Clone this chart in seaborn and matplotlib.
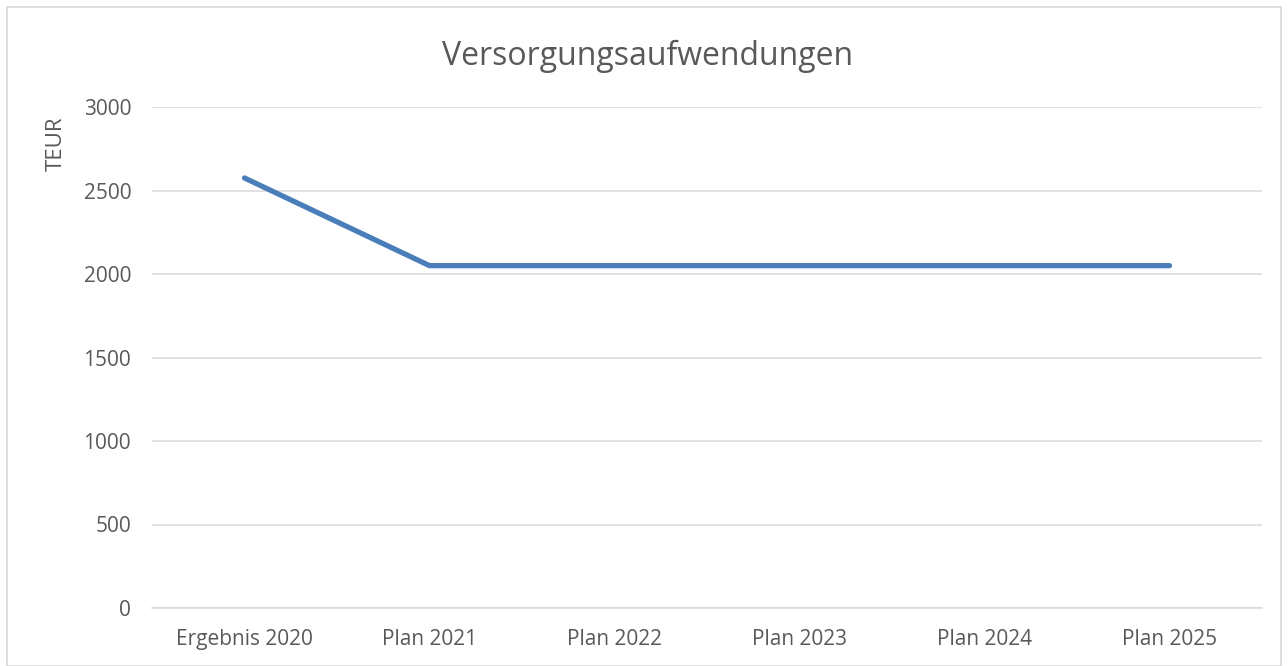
import matplotlib.pyplot as plt
import matplotlib.patches as patches
import pandas as pd
import seaborn as sns

# Data
categories = ["Ergebnis 2020", "Plan 2021", "Plan 2022", "Plan 2023", "Plan 2024", "Plan 2025"]
values = [2575, 2050, 2050, 2050, 2050, 2050]
yticks = [0, 500, 1000, 1500, 2000, 2500, 3000]

df = pd.DataFrame({"Jahr": categories, "TEUR": values})

sns.set_style("white")
plt.rcParams["font.family"] = ["Open Sans", "DejaVu Sans"]

fig = plt.figure(figsize=(12.88, 6.66), dpi=100)
ax = fig.add_axes([152 / 1288, 1 - 608 / 666, 1110 / 1288, 501 / 666])

sns.lineplot(data=df, x="Jahr", y="TEUR", ax=ax, color="#4a7ebb", linewidth=3.8,
             solid_capstyle="round", solid_joinstyle="round", sort=False)

ax.set_xlim(-0.5, len(categories) - 0.5)
ax.set_ylim(0, 3000)
ax.set_yticks(yticks)
ax.set_yticklabels([str(t) for t in yticks])
ax.grid(axis="y", color="#d9d9d9", linewidth=1.1)
ax.set_axisbelow(True)
for s in ["left", "right", "top"]:
    ax.spines[s].set_visible(False)
ax.spines["bottom"].set_color("#d9d9d9")
ax.spines["bottom"].set_linewidth(1.1)
ax.tick_params(axis="both", length=0, labelsize=15, labelcolor="#595959")
ax.tick_params(axis="y", pad=15)
ax.tick_params(axis="x", pad=15)
ax.set_xlabel("")
ax.set_ylabel("")

fig.text(56 / 1288, 1 - 144 / 666, "TEUR", rotation=90, ha="center", va="center",
         fontsize=16, color="#595959")
fig.text(648 / 1288, 1 - 56 / 666, "Versorgungsaufwendungen", ha="center", va="center",
         fontsize=23, color="#595959")

# Chart border
fig.patches.append(patches.Rectangle((7 / 1288, 0), 1274 / 1288, 1 - 7 / 666,
                                     transform=fig.transFigure, fill=False,
                                     edgecolor="#d9d9d9", linewidth=1.2))

fig.savefig("out.png", dpi=100)
